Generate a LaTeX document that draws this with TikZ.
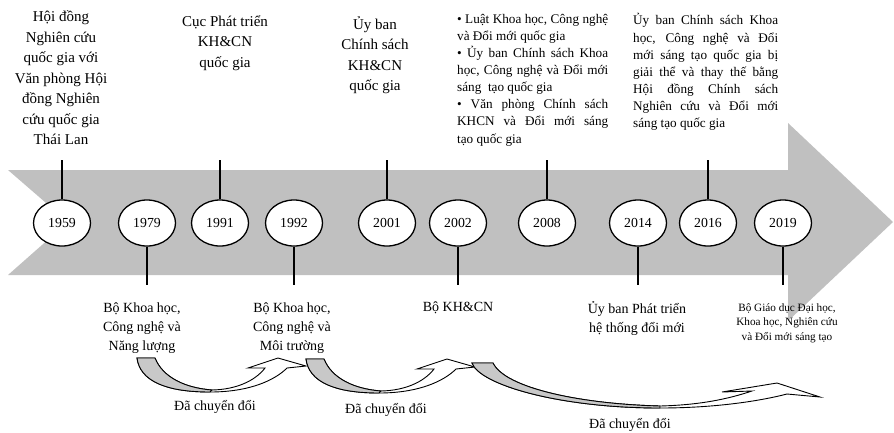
\documentclass[tikz,border=0pt]{standalone}
\usepackage{fontspec}
\setmainfont{Liberation Serif}
\usetikzlibrary{shapes.geometric}
\definecolor{bandgray}{RGB}{192,192,192}
\definecolor{crescgray}{RGB}{200,200,200}
\begin{document}
\begin{tikzpicture}[x=1pt,y=-1pt,
  yearnode/.style={ellipse,draw=black,line width=1.3pt,fill=white,minimum width=57pt,minimum height=46pt,inner sep=0pt,font=\fontsize{13.8}{16}\selectfont},
  stem/.style={line width=1.4pt},
  bigtxt/.style={align=center,inner sep=0pt,font=\fontsize{15}{20.5}\selectfont},
  midtxt/.style={align=center,inner sep=0pt,font=\fontsize{14}{19}\selectfont},
  smalltxt/.style={align=center,inner sep=0pt,font=\fontsize{11.2}{14.5}\selectfont},
  jtxt/.style={align=left,inner sep=0pt,anchor=west,font=\fontsize{13.2}{17.1}\selectfont},
  curvearrow/.style={fill=white,draw=black,line width=0.9pt,line join=miter},
  crescent/.style={fill=crescgray,draw=black,line width=0.9pt}
]
\useasboundingbox (0,0) rectangle (894,432);

% big timeline arrow
\fill[bandgray] (8,170) -- (788,170) -- (788,123) -- (893,222) -- (788,321) -- (788,275) -- (8,275) -- (68,222) -- cycle;

% year ellipses
\node[yearnode] (y1959) at (62,223) {1959};
\node[yearnode] (y1979) at (147,223) {1979};
\node[yearnode] (y1991) at (220,223) {1991};
\node[yearnode] (y1992) at (294,223) {1992};
\node[yearnode] (y2001) at (387,223) {2001};
\node[yearnode] (y2002) at (458,223) {2002};
\node[yearnode] (y2008) at (547,223) {2008};
\node[yearnode] (y2014) at (638,223) {2014};
\node[yearnode] (y2016) at (708,223) {2016};
\node[yearnode] (y2019) at (783,223) {2019};

% stem ends
\coordinate (t1959) at (62,160);
\coordinate (t1991) at (220,160);
\coordinate (t2001) at (387,160);
\coordinate (t2008) at (547,160);
\coordinate (t2016) at (708,160);
\coordinate (b1979) at (147,285);
\coordinate (b1992) at (294,285);
\coordinate (b2002) at (458,285);
\coordinate (b2014) at (638,285);
\coordinate (b2019) at (783,285);

\draw[stem] (y1959) -- (t1959);
\draw[stem] (y1991) -- (t1991);
\draw[stem] (y2001) -- (t2001);
\draw[stem] (y2008) -- (t2008);
\draw[stem] (y2016) -- (t2016);
\draw[stem] (y1979) -- (b1979);
\draw[stem] (y1992) -- (b1992);
\draw[stem] (y2002) -- (b2002);
\draw[stem] (y2014) -- (b2014);
\draw[stem] (y2019) -- (b2019);

% top texts
\node[bigtxt] (txt1959) at (61,78) {Hội đồng\\Nghiên cứu\\quốc gia với\\Văn phòng Hội\\đồng Nghiên\\cứu quốc gia\\Thái Lan};
\node[bigtxt] (txt1991) at (225,43) {Cục Phát triển\\KH\&CN\\quốc gia};
\node[bigtxt] (txt2001) at (375,55) {Ủy ban\\Chính sách\\KH\&CN\\quốc gia};
\node[jtxt] (txt2008) at (457,80) {\makebox[151pt][s]{• Luật Khoa học, Công nghệ}\\và Đổi mới quốc gia\\\makebox[151pt][s]{• Ủy ban Chính sách Khoa}\\\makebox[151pt][s]{học, Công nghệ và Đổi mới}\\sáng\ \ tạo quốc gia\\\makebox[151pt][s]{• Văn phòng Chính sách}\\\makebox[151pt][s]{KHCN và Đổi mới sáng}\\tạo quốc gia};
\node[jtxt] (txt2016) at (633,72) {\makebox[145pt][s]{Ủy ban Chính sách Khoa}\\\makebox[145pt][s]{học, Công nghệ và Đổi}\\\makebox[145pt][s]{mới sáng tạo quốc gia bị}\\\makebox[145pt][s]{giải thể và thay thế bằng}\\\makebox[145pt][s]{Hội đồng Chính sách}\\\makebox[145pt][s]{Nghiên cứu và Đổi mới}\\sáng tạo quốc gia};

% bottom texts
\node[midtxt] (txt1979) at (142,328) {Bộ Khoa học,\\Công nghệ và\\Năng lượng};
\node[midtxt] (txt1992) at (292,328) {Bộ Khoa học,\\Công nghệ và\\Môi trường};
\node[midtxt] (txt2002) at (458,308) {Bộ KH\&CN};
\node[midtxt] (txt2014) at (637,319) {Ủy ban Phát triển\\hệ thống đổi mới};
\node[smalltxt] (txt2019) at (787,323) {Bộ Giáo dục Đại học,\\Khoa học, Nghiên cứu\\và Đổi mới sáng tạo};

% curved arrows 1 and 2
\foreach \dx/\dy in {0/0,169/1}{
\begin{scope}[shift={(\dx,\dy)}]
\draw[curvearrow] (137,358) .. controls (140,381) and (166,392) .. (210,392)
  .. controls (250,392) and (275,380) .. (287,368)
  -- (306,366) -- (278,358) -- (248,368) -- (265,368)
  .. controls (255,381) and (236,389.5) .. (212,390)
  .. controls (186,388) and (163,378) .. (155,358) -- cycle;
\draw[crescent] (137,358) .. controls (140,381) and (166,392) .. (210,392)
  -- (212,390) .. controls (186,388) and (163,378) .. (155,358) -- cycle;
\end{scope}}

% curved arrow 3
\draw[curvearrow] (472,363) .. controls (480,385) and (560,408) .. (660,408)
  .. controls (715,408) and (760,401) .. (787,394)
  -- (820,397) -- (777,383) -- (722,392) -- (752,391)
  .. controls (728,399) and (700,405) .. (660,406)
  .. controls (580,404) and (505,388) .. (493,363) -- cycle;
\draw[crescent] (472,363) .. controls (480,385) and (560,408) .. (660,408)
  -- (660,406) .. controls (580,404) and (505,388) .. (493,363) -- cycle;

% labels
\node[midtxt] (lab1) at (215,407) {Đã chuyển đổi};
\node[midtxt] (lab2) at (386,410) {Đã chuyển đổi};
\node[midtxt] (lab3) at (630,425) {Đã chuyển đổi};
\end{tikzpicture}
\end{document}
